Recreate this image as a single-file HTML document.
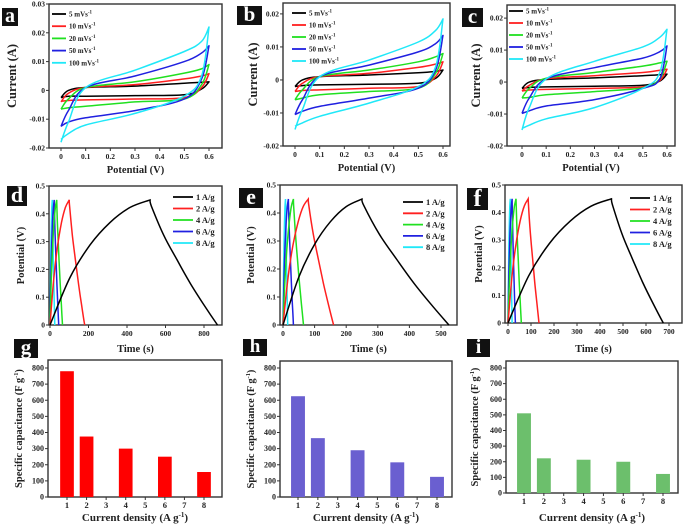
<!DOCTYPE html>
<html><head><meta charset="utf-8">
<style>
html,body{margin:0;padding:0;background:#fff;}
svg{display:block;font-family:"Liberation Serif",serif;font-weight:bold;}
</style></head>
<body>
<svg id="fig" width="685" height="527" viewBox="0 0 685 527" xmlns="http://www.w3.org/2000/svg">
<rect width="685" height="527" fill="#fff"/>
</svg>
<script>
// ---------- CV data (potential grid and currents) ----------
const cvUpV = [0, 0.03, 0.1, 0.3, 0.5, 0.57, 0.6];
const cvDownV = [0.6, 0.57, 0.5, 0.3, 0.1, 0.03, 0];
const cvRates = ["5 mVs", "10 mVs", "20 mVs", "50 mVs", "100 mVs"];
const cvColors = ["#000000", "#ff2020", "#20e020", "#2020e0", "#20e8f8"];
const cvA_up = [
 [-0.0025,0,0.001,0.0015,0.0025,0.0028,0.003],
 [-0.004,-0.001,0.001,0.002,0.004,0.005,0.0058],
 [-0.0065,-0.003,0.001,0.003,0.006,0.0075,0.009],
 [-0.0125,-0.007,0.001,0.005,0.01,0.013,0.0155],
 [-0.018,-0.011,0.001,0.007,0.0135,0.017,0.022]];
const cvA_down = [
 [0.003,0.0005,-0.0015,-0.0018,-0.002,-0.002,-0.0025],
 [0.0058,0.001,-0.0025,-0.003,-0.0033,-0.0035,-0.0038],
 [0.009,0.002,-0.003,-0.004,-0.0055,-0.006,-0.0065],
 [0.0155,0.004,-0.003,-0.007,-0.0095,-0.011,-0.0125],
 [0.022,0.005,-0.002,-0.008,-0.012,-0.015,-0.017]];
const cvB_up = [
 [-0.002,0,0.001,0.0015,0.0022,0.0026,0.003],
 [-0.0035,-0.001,0.001,0.002,0.0038,0.0048,0.0055],
 [-0.006,-0.003,0.001,0.003,0.0055,0.007,0.008],
 [-0.0105,-0.006,0.001,0.0045,0.0085,0.011,0.0135],
 [-0.015,-0.009,0.001,0.006,0.0115,0.015,0.0185]];
const cvB_down = [
 [0.003,0.0005,-0.001,-0.0013,-0.0015,-0.0017,-0.002],
 [0.0055,0.001,-0.002,-0.0025,-0.003,-0.0032,-0.0035],
 [0.008,0.002,-0.0025,-0.0035,-0.0045,-0.0055,-0.006],
 [0.0135,0.003,-0.0025,-0.0055,-0.008,-0.0095,-0.0105],
 [0.0185,0.004,-0.002,-0.007,-0.011,-0.013,-0.014]];
const cvC_up = [
 [-0.002,0,0.0008,0.0013,0.002,0.0023,0.0025],
 [-0.0028,-0.001,0.001,0.002,0.003,0.0037,0.004],
 [-0.005,-0.002,0.0012,0.003,0.005,0.006,0.0065],
 [-0.0098,-0.005,0.001,0.0045,0.0075,0.0095,0.0113],
 [-0.015,-0.008,0.001,0.0065,0.011,0.014,0.0165]];
const cvC_down = [
 [0.0025,0.0003,-0.001,-0.0013,-0.0015,-0.0017,-0.002],
 [0.004,0.0005,-0.0015,-0.002,-0.0023,-0.0025,-0.0028],
 [0.0065,0.001,-0.0018,-0.003,-0.004,-0.0048,-0.005],
 [0.0113,0.001,-0.002,-0.0055,-0.0075,-0.009,-0.0098],
 [0.0165,0.003,-0.002,-0.008,-0.0115,-0.0135,-0.0145]];
const cvXTicks = [0,0.1,0.2,0.3,0.4,0.5,0.6];
const cvXLabels = ["0","0.1","0.2","0.3","0.4","0.5","0.6"];
const cvYTicksA = [-0.02,-0.01,0,0.01,0.02,0.03];
const cvYLabelsA = ["-0.02","-0.01","0","0.01","0.02","0.03"];
const cvYTicksBC = [-0.02,-0.01,0,0.01,0.02];
const cvYLabelsBC = ["-0.02","-0.01","0","0.01","0.02"];

// ---------- GCD data ----------
const gcdLabels = ["1 A/g","2 A/g","4 A/g","6 A/g","8 A/g"];
const gcdColors = ["#000000","#ff2020","#20e020","#2020e0","#20e8f8"];
const gcdPeakV = 0.45;
const chargeFrac = [0,0.2,0.4,0.6,0.8,1];
const chargeShape = [0,0.38,0.64,0.82,0.94,1];
const dischargeShape = [1,0.95,0.72,0.52,0.33,0.16,0];
const dischargeFrac = [0,0.02,0.2,0.4,0.6,0.8,1];
const gcdD_charge = [520,100,35,22,12];
const gcdD_end = [870,180,65,45,25];
const gcdE_charge = [250,80,33,17,8];
const gcdE_end = [525,160,65,33,15];
const gcdF_charge = [450,88,35,18,10];
const gcdF_end = [675,135,58,32,18];

// ---------- Bar data ----------
const barCats = [1,2,4,6,8];
const barG = [780,375,300,250,155];
const barH = [625,365,290,215,125];
const barI = [510,222,213,200,122];
const barXTicks = [1,2,3,4,5,6,7,8];
const barYTicks = [0,100,200,300,400,500,600,700,800];

const NS = "http://www.w3.org/2000/svg";
const svg = document.getElementById("fig");
function el(tag, attrs, parent){ const e=document.createElementNS(NS,tag); for(const k in attrs) e.setAttribute(k,attrs[k]); (parent||svg).appendChild(e); return e; }
function lin(d0,d1,r0,r1){ return v=>r0+(v-d0)/(d1-d0)*(r1-r0); }
function poly(pts){ return "M"+pts.map(p=>p[0].toFixed(1)+","+p[1].toFixed(1)).join(" L"); }
function smooth(pts){
  let d="M"+pts[0][0].toFixed(1)+","+pts[0][1].toFixed(1);
  for(let i=0;i<pts.length-1;i++){
    const p0=pts[Math.max(0,i-1)],p1=pts[i],p2=pts[i+1],p3=pts[Math.min(pts.length-1,i+2)];
    const c1=[p1[0]+(p2[0]-p0[0])/6,p1[1]+(p2[1]-p0[1])/6];
    const c2=[p2[0]-(p3[0]-p1[0])/6,p2[1]-(p3[1]-p1[1])/6];
    d+=" C"+c1[0].toFixed(1)+","+c1[1].toFixed(1)+" "+c2[0].toFixed(1)+","+c2[1].toFixed(1)+" "+p2[0].toFixed(1)+","+p2[1].toFixed(1);
  }
  return d;
}
function frame(g,f){
  const r=el("rect",{x:f.l,y:f.t,width:f.r-f.l,height:f.b-f.t,fill:"none",stroke:"#333","stroke-width":1.4},g);
  
  
}
function xAxis(g,f,x,ticks,labels,fs){
  ticks.forEach((t,i)=>{
    const tk=el("line",{x1:x(t),x2:x(t),y1:f.b,y2:f.b+3,stroke:"#333","stroke-width":1},g);
    
    
    const tx=el("text",{x:x(t),y:f.b+11,"font-size":fs||7.5,"text-anchor":"middle",fill:"#222"},g);
    tx.textContent=labels[i];
    
    
  });
}
function yAxis(g,f,y,ticks,labels,fs){
  ticks.forEach((t,i)=>{
    const tk=el("line",{x1:f.l-3,x2:f.l,y1:y(t),y2:y(t),stroke:"#333","stroke-width":1},g);
    
    
    const tx=el("text",{x:f.l-4,y:y(t)+2.5,"font-size":fs||7.5,"text-anchor":"end",fill:"#222"},g);
    tx.textContent=labels[i];
    
    
  });
}
function title(g,txt,x,y,fs,rot,name,sup){
  const t=el("text",{x:x,y:y,"font-size":fs,"text-anchor":"middle",fill:"#222"},g);
  if(rot) t.setAttribute("transform","rotate(-90 "+x+" "+y+")");
  t.textContent=txt;
  if(sup){ const s=el("tspan",{dy:-4,"font-size":fs*0.6},t); s.textContent=sup; const s2=el("tspan",{dy:4},t); s2.textContent=")"; }
  
  
}
function badge(g,ch,x,y,w,h){
  const r=el("rect",{x:x,y:y,width:w,height:h,fill:"#111"},g);
  
  
  const t=el("text",{x:x+w/2,y:y+h-4,"font-size":h+2,"text-anchor":"middle",fill:"#fff"},g);
  t.textContent=ch;
  
  
}

// ---------- CV panels ----------
function cvPanel(name,letter,f,ymax,xt0,xt6,yticks,ylabels,up,down,badgeB,leg,ytX,xtY){
  const g=el("g",{});  
  const x=lin(0,0.6,xt0,xt6), y=lin(-0.02,ymax,f.b,f.t);
  frame(g,f);
  xAxis(g,f,x,cvXTicks,cvXLabels);
  yAxis(g,f,y,yticks,ylabels);
  for(let s=0;s<cvRates.length;s++){
    const upPts=cvUpV.map((v,i)=>[x(v),y(up[s][i])]);
    const dnPts=cvDownV.map((v,i)=>[x(v),y(down[s][i])]);
    const p=el("path",{d:smooth(upPts)+" "+smooth(dnPts).replace("M","L"),fill:"none",stroke:cvColors[s],"stroke-width":1.5,"stroke-linejoin":"round"},g);
    
    
    const ly=leg.y0+s*leg.dy;
    const ll=el("line",{x1:leg.x,x2:leg.x+14,y1:ly,y2:ly,stroke:cvColors[s],"stroke-width":1.8},g);
    
    
    const lt=el("text",{x:leg.x+17,y:ly+2.5,"font-size":7,fill:"#222"},g);
    lt.textContent=cvRates[s];
    const sp=el("tspan",{dy:-3,"font-size":5},lt); sp.textContent="-1";
    
    
  }
  badge(g,letter,badgeB[0],badgeB[1],badgeB[2],badgeB[3]);
  title(g,"Current (A)",ytX,(f.t+f.b)/2,12.5,true,"y-axis-title");
  title(g,"Potential (V)",(f.l+f.r)/2,xtY,10.5,false,"x-axis-title");
}
cvPanel("cv-panel-a","a",{l:49,r:222,t:4,b:148},0.03,61,209,cvYTicksA,cvYLabelsA,cvA_up,cvA_down,[2,8,16,18],{x:52,y0:14,dy:12.2},16,173);
cvPanel("cv-panel-b","b",{l:283,r:450,t:3,b:146},0.0233,295,443,cvYTicksBC,cvYLabelsBC,cvB_up,cvB_down,[237,6,25,19],{x:292,y0:13,dy:12},257,171);
cvPanel("cv-panel-c","c",{l:507,r:675,t:5,b:146},0.0241,522,667,cvYTicksBC,cvYLabelsBC,cvC_up,cvC_down,[462,8,21,19],{x:509,y0:11,dy:12},480,171);

// ---------- GCD panels ----------
function gcdPanel(name,letter,f,x0px,refT,refPx,xticks,chg,end,badgeB,leg,ytX){
  const g=el("g",{});  
  const x=lin(0,refT,x0px,refPx), y=lin(0,0.5,f.b,f.t);
  frame(g,f);
  xAxis(g,f,x,xticks,xticks.map(String));
  yAxis(g,f,y,[0,0.1,0.2,0.3,0.4,0.5],["0","0.1","0.2","0.3","0.4","0.5"]);
  for(let s=gcdLabels.length-1;s>=0;s--){
    const cpts=chargeFrac.map((fr,i)=>[x(fr*chg[s]),y(chargeShape[i]*gcdPeakV)]);
    const dpts=dischargeFrac.map((fr,i)=>[x(chg[s]+fr*(end[s]-chg[s])),y(dischargeShape[i]*gcdPeakV)]);
    const p=el("path",{d:smooth(cpts)+" "+smooth(dpts).replace("M","L"),fill:"none",stroke:gcdColors[s],"stroke-width":1.5},g);
    
    
  }
  gcdLabels.forEach((lb,s)=>{
    const ly=leg.y0+s*leg.dy;
    const ll=el("line",{x1:leg.x,x2:leg.x+20,y1:ly,y2:ly,stroke:gcdColors[s],"stroke-width":1.8},g);
    
    
    const lt=el("text",{x:leg.x+23,y:ly+3,"font-size":8.5,fill:"#222"},g);
    lt.textContent=lb;
    
    
  });
  badge(g,letter,badgeB[0],badgeB[1],badgeB[2],badgeB[3]);
  title(g,"Potential (V)",ytX,(f.t+f.b)/2,10.5,true,"y-axis-title");
  title(g,"Time (s)",(f.l+f.r)/2,352,10.5,false,"x-axis-title");
}
gcdPanel("gcd-panel-d","d",{l:49,r:222,t:186,b:325},50,800,204,[0,200,400,600,800],gcdD_charge,gcdD_end,[7,186,20,20],{x:173,y0:197,dy:11.5},24);
gcdPanel("gcd-panel-e","e",{l:280,r:457,t:185,b:325},283,500,441,[0,100,200,300,400,500],gcdE_charge,gcdE_end,[239,188,24,20],{x:403,y0:202,dy:11.3},254);
gcdPanel("gcd-panel-f","f",{l:505,r:682,t:185,b:323},508,700,669,[0,100,200,300,400,500,600,700],gcdF_charge,gcdF_end,[467,188,21,22],{x:630,y0:198,dy:11.5},482);

// ---------- Bar panels ----------
function barPanel(name,letter,f,y0px,y800px,x1px,x8px,vals,color,badgeB,ytX){
  const g=el("g",{});  
  const x=lin(1,8,x1px,x8px), y=lin(0,800,y0px,y800px);
  frame(g,f);
  xAxis(g,f,x,barXTicks,barXTicks.map(String),8.5);
  yAxis(g,f,y,barYTicks,barYTicks.map(String),8);
  const bw=(x8px-x1px)/7*0.7;
  barCats.forEach((c,i)=>{
    const b=el("rect",{x:x(c)-bw/2,y:y(vals[i]),width:bw,height:y(0)-y(vals[i]),fill:color},g);
    
    
  });
  badge(g,letter,badgeB[0],badgeB[1],badgeB[2],badgeB[3]);
  title(g,"Specific capacitance (F g",ytX,(f.t+f.b)/2,10.5,true,"y-axis-title","-1");
  const t=el("text",{x:(f.l+f.r)/2,y:521,"font-size":11,"text-anchor":"middle",fill:"#222"},g);
  t.textContent="Current density (A g";
  const s1=el("tspan",{dy:-4,"font-size":7},t); s1.textContent="-1";
  const s2=el("tspan",{dy:4},t); s2.textContent=")";
  
  
}
barPanel("bar-panel-g","g",{l:48,r:222,t:360,b:497},497,368,67,204,barG,"#ff0000",[14,339,24,19],22);
barPanel("bar-panel-h","h",{l:280,r:452,t:361,b:497},497,368,298,437,barH,"#6a5fd0",[243,339,24,17],254);
barPanel("bar-panel-i","i",{l:506,r:678,t:361,b:493},493,368,524,663,barI,"#6cbf6c",[467,339,23,18],478);
</script>
</body></html>
